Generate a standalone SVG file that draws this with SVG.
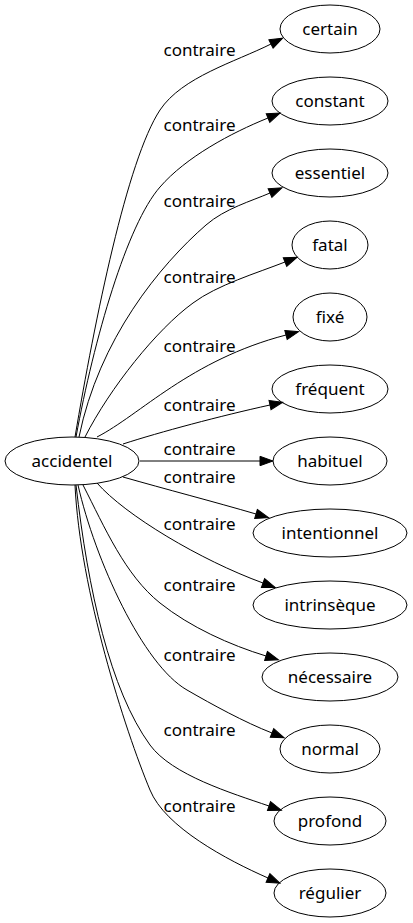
<svg xmlns="http://www.w3.org/2000/svg" width="413" height="923" viewBox="0 0 413 923">
<style>
.n ellipse{fill:none;stroke:#000;stroke-width:1}
text{font-family:"Noto Sans","Open Sans","DejaVu Sans",sans-serif;font-size:17px;fill:#000;text-anchor:middle}
.e path{fill:none;stroke:#000;stroke-width:1;marker-end:url(#ah)}
</style>
<defs>
<marker id="ah" markerUnits="userSpaceOnUse" markerWidth="14" markerHeight="10" refX="0" refY="5" orient="auto" overflow="visible">
<path d="M0,0.3 L13,5 L0,9.7 z" fill="#000" stroke="#000" stroke-width="1"/>
</marker>
</defs>
<rect width="413" height="923" fill="#fff"/>
<g id="edges" class="e">
<path d="M75,437 C95,319 127,160 160,110 C182,77 235,62 271,44"/>
<path d="M76,437 C94,339 127,224.5 160,187 C186,157 231,133 268,118"/>
<path d="M79,437 C99,339 160,265 206,225 C225,208.5 251.6,201 270,193"/>
<path d="M85,437 C110,388 156.5,329.5 193,303 C217,285 257,273 285,262"/>
<path d="M97,437 C140,415 190,360 286,335"/>
<path d="M123,444 C160,432 220,416 270,405"/>
<path d="M140,461 L260,461"/>
<path d="M123,477 C165,489 215,502 256,514"/>
<path d="M97,483 C125,515 200,560 263,583"/>
<path d="M83,485 C105,528 125,575 160,603 C190,627 230,645 266,656"/>
<path d="M78,485 C95,560 143,665 187,690 C213,705 244,722 272,733"/>
<path d="M76,485 C88,590 110,690 150,745 C172,775 231,793 269,806"/>
<path d="M75,485 C80,590 125,730 150,790 C165,827 227,860 268,878"/>
<g id="labels">
<text x="199.5" y="56">contraire</text>
<text x="199.5" y="131">contraire</text>
<text x="199.5" y="207">contraire</text>
<text x="199.5" y="283">contraire</text>
<text x="199.5" y="352">contraire</text>
<text x="199.5" y="411">contraire</text>
<text x="199.5" y="455">contraire</text>
<text x="199.5" y="483">contraire</text>
<text x="199.5" y="530">contraire</text>
<text x="199.5" y="591">contraire</text>
<text x="199.5" y="661">contraire</text>
<text x="199.5" y="736">contraire</text>
<text x="199.5" y="812">contraire</text>
</g>
</g>
<g id="accidentel" class="n"><ellipse cx="72" cy="461" rx="67" ry="24"/><text x="72" y="467">accidentel</text></g>
<g id="certain" class="n"><ellipse cx="330" cy="29" rx="50" ry="24"/><text x="330" y="35">certain</text></g>
<g id="constant" class="n"><ellipse cx="330" cy="101" rx="58" ry="24"/><text x="330" y="107">constant</text></g>
<g id="essentiel" class="n"><ellipse cx="330" cy="173" rx="58" ry="24"/><text x="330" y="179">essentiel</text></g>
<g id="fatal" class="n"><ellipse cx="330" cy="245" rx="38" ry="24"/><text x="330" y="251">fatal</text></g>
<g id="fixe" class="n"><ellipse cx="330" cy="317" rx="37" ry="24"/><text x="330" y="323">fixé</text></g>
<g id="frequent" class="n"><ellipse cx="330" cy="389" rx="58" ry="24"/><text x="330" y="395">fréquent</text></g>
<g id="habituel" class="n"><ellipse cx="330" cy="461" rx="57" ry="24"/><text x="330" y="467">habituel</text></g>
<g id="intentionnel" class="n"><ellipse cx="330" cy="533" rx="77" ry="24"/><text x="330" y="539">intentionnel</text></g>
<g id="intrinseque" class="n"><ellipse cx="330" cy="605" rx="77" ry="24"/><text x="330" y="611">intrinsèque</text></g>
<g id="necessaire" class="n"><ellipse cx="330" cy="677" rx="68" ry="24"/><text x="330" y="683">nécessaire</text></g>
<g id="normal" class="n"><ellipse cx="330" cy="749" rx="50" ry="24"/><text x="330" y="755">normal</text></g>
<g id="profond" class="n"><ellipse cx="330" cy="821" rx="56" ry="24"/><text x="330" y="827">profond</text></g>
<g id="regulier" class="n"><ellipse cx="330" cy="893" rx="56" ry="24"/><text x="330" y="899">régulier</text></g>
</svg>
